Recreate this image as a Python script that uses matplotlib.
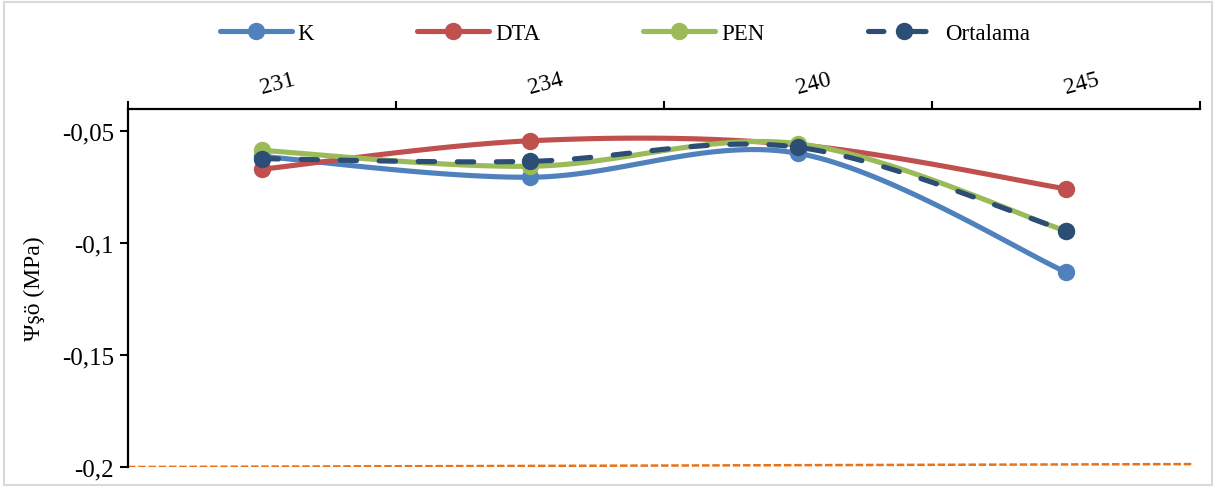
import matplotlib.pyplot as plt
from matplotlib.patches import Rectangle
from matplotlib.transforms import ScaledTranslation
import numpy as np

plt.rcParams['font.family'] = ['Liberation Serif', 'DejaVu Serif']

categories = ["231", "234", "240", "245"]
k_vals = [-0.0612, -0.0705, -0.0598, -0.1129]
dta_vals = [-0.0669, -0.0542, -0.0560, -0.0757]
pen_vals = [-0.0585, -0.0656, -0.0555, -0.0945]
ort_vals = [-0.0622, -0.0634, -0.0571, -0.0944]
ref_line = [-0.2, -0.1987]   # orange dashed line at the bottom

colors = {"K": "#4F81BD", "DTA": "#C0504D", "PEN": "#9BBB59", "Ortalama": "#2C4D75"}


def smooth(xs, ys, n=40):
    # bezier smoothing through the points, like spreadsheet "smoothed line"
    p = np.column_stack([xs, ys]).astype(float)
    p_ext = np.vstack([p[0], p, p[-1]])
    out = []
    for i in range(len(p) - 1):
        p0, p3 = p[i], p[i + 1]
        c1 = p0 + (p_ext[i + 2] - p_ext[i]) / 6
        c2 = p3 - (p_ext[i + 3] - p_ext[i + 1]) / 6
        t = np.linspace(0, 1, n)[:, None]
        seg = ((1 - t) ** 3) * p0 + 3 * ((1 - t) ** 2) * t * c1 + 3 * (1 - t) * t ** 2 * c2 + t ** 3 * p3
        out.append(seg if i == 0 else seg[1:])
    seg = np.vstack(out)
    return seg[:, 0], seg[:, 1]


fig = plt.figure(figsize=(12.16, 4.89), dpi=100)
ax = fig.add_axes([128 / 1216, 1 - 468 / 489, (1200 - 128) / 1216, (468 - 110) / 489])

x = np.arange(len(categories))
lw = 3.7
ms = 11.5
handles = []
for name, vals in [("K", k_vals), ("DTA", dta_vals), ("PEN", pen_vals)]:
    sx, sy = smooth(x, vals)
    ax.plot(sx, sy, color=colors[name], lw=lw, solid_capstyle="round", zorder=3)
    ax.plot(x, vals, "o", color=colors[name], ms=ms, zorder=3)
    h, = ax.plot([], [], color=colors[name], lw=lw, marker="o", ms=ms,
                 solid_capstyle="round", label=name)
    handles.append(h)

sx, sy = smooth(x, ort_vals)
ax.plot(sx, sy, color=colors["Ortalama"], lw=lw, ls=(0, (3.2, 4.4)),
        dash_capstyle="round", zorder=4)
ax.plot(x, ort_vals, "o", color=colors["Ortalama"], ms=ms, zorder=4)
h, = ax.plot([], [], color=colors["Ortalama"], lw=lw, marker="o", ms=ms,
             ls=(0, (3.0, 5.2)), dash_capstyle="round", label="Ortalama")
handles.append(h)

ax.plot([-0.5, 3.47], ref_line, color="#E8731A", lw=1.8, ls=(0, (3, 1.1)), zorder=2)

ax.set_xlim(-0.5, 3.5)
ax.set_ylim(-0.2, -0.04)
ax.set_yticks([-0.05, -0.1, -0.15, -0.2])
ax.set_yticklabels(["-0,05", "-0,1", "-0,15", "-0,2"], fontsize=18)
ax.tick_params(axis="y", length=6, width=1.5, direction="out", pad=4)

# category axis on top, tick marks between categories
ax.xaxis.tick_top()
ax.set_xticks(np.arange(-0.5, 4, 1))
ax.set_xticklabels([])
ax.set_xticks(x, minor=True)
ax.set_xticklabels(categories, minor=True, rotation=15, fontsize=17)
ax.tick_params(axis="x", which="major", length=6, width=1.5, direction="out")
ax.tick_params(axis="x", which="minor", length=0, pad=8)
shift = ScaledTranslation(16 / 100, 0, fig.dpi_scale_trans)
for lab in ax.get_xticklabels(minor=True):
    lab.set_transform(lab.get_transform() + shift)

for side in ["right", "bottom"]:
    ax.spines[side].set_visible(False)
for side in ["left", "top"]:
    ax.spines[side].set_linewidth(1.6)

ax.set_ylabel("Ψşö (MPa)", fontsize=17, labelpad=12)

fig.legend(handles=handles, loc="center", bbox_to_anchor=(0.514, 0.93), ncol=4,
           frameon=False, fontsize=16.5, handlelength=3.15, columnspacing=4.5,
           handletextpad=0.25)

fig.patches.append(Rectangle((4 / 1216, 3 / 489), 1208 / 1216, 483 / 489,
                             transform=fig.transFigure, fill=False,
                             edgecolor="#D9D9D9", lw=1.5))

fig.savefig("out.png", dpi=100)
